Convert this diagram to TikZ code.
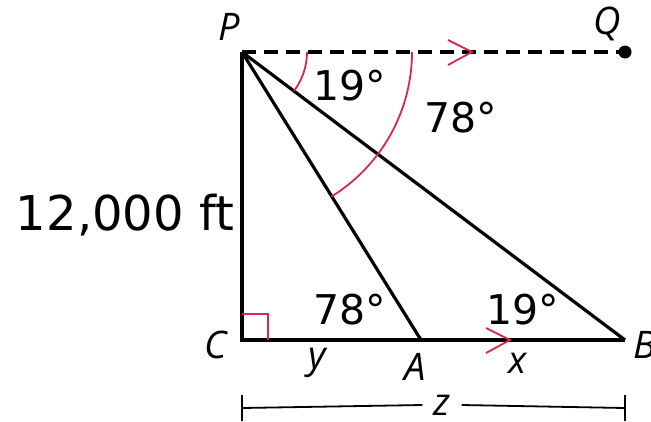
\documentclass[tikz,border=0pt]{standalone}
\usepackage{fontspec}
\setmainfont{DejaVu Sans}
\newfontfamily\ptfont{Open Sans}
\usepackage{tikz}
\usetikzlibrary{calc}
\definecolor{markred}{RGB}{214,40,72}

\begin{document}
\begin{tikzpicture}[x=1pt,y=-1pt,
  side/.style={line width=3.2pt},
  sight/.style={line width=3.2pt,dash pattern=on 14pt off 8pt},
  redmark/.style={markred,line width=1.8pt},
  dimline/.style={line width=1.8pt},
  ptlab/.style={font=\ptfont\itshape\fontsize{38}{38}\selectfont,inner sep=0pt},
  anglab/.style={font=\fontsize{41}{41}\selectfont,inner sep=0pt}]
\useasboundingbox (0,0) rectangle (651,421);
% points of the figure
\coordinate (P) at (242,52);
\coordinate (C) at (242,340);
\coordinate (A) at (421,340);
\coordinate (B) at (625,340);
\node[circle,fill,inner sep=0pt,minimum size=13pt] (Q) at (625,52) {};
% lines
\draw[sight] (P) -- (Q.center);
\draw[side] (P) -- (C) -- (B);
\draw[side] (P) -- (B);
\draw[side] (P) -- (A);
% right angle and angle arcs
\draw[redmark] ($(C)+(0,-26)$) -| ($(C)+(26,0)$);
\draw[redmark] ($(P)+(65,0)$) arc[start angle=0,end angle=36.9,radius=65];
\draw[redmark] ($(P)+(170,0)$) arc[start angle=0,end angle=58.3,radius=170];
% parallel marks
\coordinate (hq) at (472,52);
\coordinate (hb) at (510,340);
\foreach \h in {hq,hb} {
  \draw[redmark] ($(\h)+(-24,-12)$) -- (\h) -- ($(\h)+(-24,13)$);
}
% labels
\node[ptlab] (lP) at (229,27) {P};
\node[ptlab] (lQ) at (607,24) {Q};
\node[ptlab] (lC) at (216,345) {C};
\node[ptlab] (lA) at (415,367) {A};
\node[ptlab,anchor=west] (lB) at (633,345) {B};
\node[ptlab] (ly) at (317,363) {y};
\node[ptlab] (lx) at (518,363) {x};
\node[anglab] (a1) at (350,86) {19°};
\node[anglab] (a2) at (461,118) {78°};
\node[anglab] (a3) at (350,310) {78°};
\node[anglab] (a4) at (523,310) {19°};
\node[font=\fontsize{48}{48}\selectfont,inner sep=0pt] (h) at (125,215) {12,000 ft};
% dimension z
\coordinate (zl) at (242,408);
\coordinate (zr) at (625,408);
\node[ptlab,inner xsep=11pt] (z) at (442,405) {z};
\draw[dimline] (zl) -- (z.west);
\draw[dimline] (z.east) -- (zr);
\draw[dimline] ($(zl)+(0,-13)$) -- ($(zl)+(0,13)$);
\draw[dimline] ($(zr)+(0,-13)$) -- ($(zr)+(0,13)$);
\end{tikzpicture}
\end{document}
